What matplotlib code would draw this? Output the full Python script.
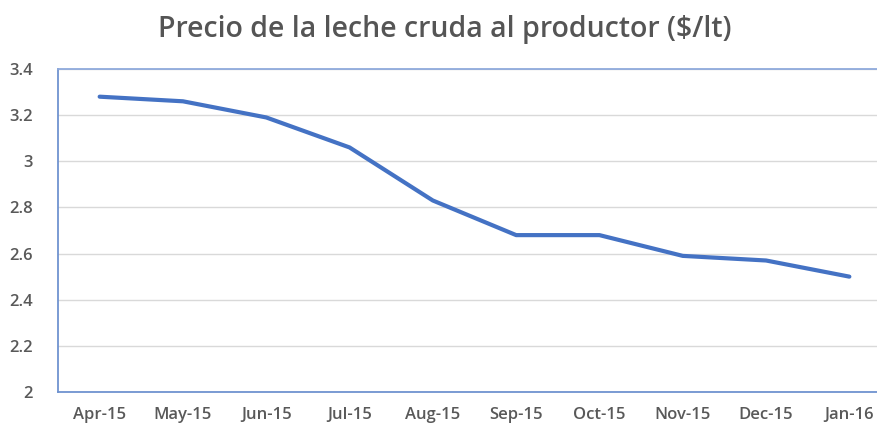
import matplotlib

matplotlib.use("Agg")
import matplotlib.pyplot as plt

# Precio de la leche cruda al productor ($/lt), Apr-15 .. Jan-16
months = ["Apr-15", "May-15", "Jun-15", "Jul-15", "Aug-15",
          "Sep-15", "Oct-15", "Nov-15", "Dec-15", "Jan-16"]
price = [3.28, 3.26, 3.19, 3.06, 2.83, 2.68, 2.68, 2.59, 2.57, 2.50]
y_ticks = [2, 2.2, 2.4, 2.6, 2.8, 3, 3.2, 3.4]
y_labels = ["2", "2.2", "2.4", "2.6", "2.8", "3", "3.2", "3.4"]

plt.rcParams["font.family"] = ["Open Sans", "DejaVu Sans"]
text_col = "#595959"
frame_col = "#8FAADC"

fig = plt.figure(figsize=(8.77, 4.24), dpi=100)
# plot area runs past the right edge, like the cropped original
ax = fig.add_axes([58 / 877, 32 / 424, 833 / 877, 323 / 424])

x = list(range(len(months)))
ax.plot(x, price, color="#4472C4", linewidth=3, solid_capstyle="round",
        solid_joinstyle="round", zorder=3)

ax.set_xlim(-0.5, len(months) - 0.5)
ax.set_ylim(2, 3.4)
ax.set_yticks(y_ticks)
ax.set_yticklabels(y_labels)
ax.set_xticks(x)
ax.set_xticklabels(months)
ax.tick_params(axis="both", length=0, colors=text_col, labelsize=12)
ax.tick_params(axis="x", pad=11)
ax.tick_params(axis="y", pad=18)
for lab in ax.get_xticklabels() + ax.get_yticklabels():
    lab.set_fontweight("semibold")

ax.grid(axis="y", color="#D9D9D9", linewidth=1)
ax.set_axisbelow(True)
for side in ["left", "bottom"]:
    ax.spines[side].set_color("#6F93D0")
    ax.spines[side].set_linewidth(1.3)
ax.spines["top"].set_color(frame_col)
ax.spines["top"].set_linewidth(1.3)
ax.spines["right"].set_visible(False)

fig.text(445 / 877, 1 - 29 / 424, "Precio de la leche cruda al productor ($/lt)",
         ha="center", va="center", fontsize=20.5, fontweight="semibold",
         color="#555555")

fig.savefig("out.png", dpi=100)
